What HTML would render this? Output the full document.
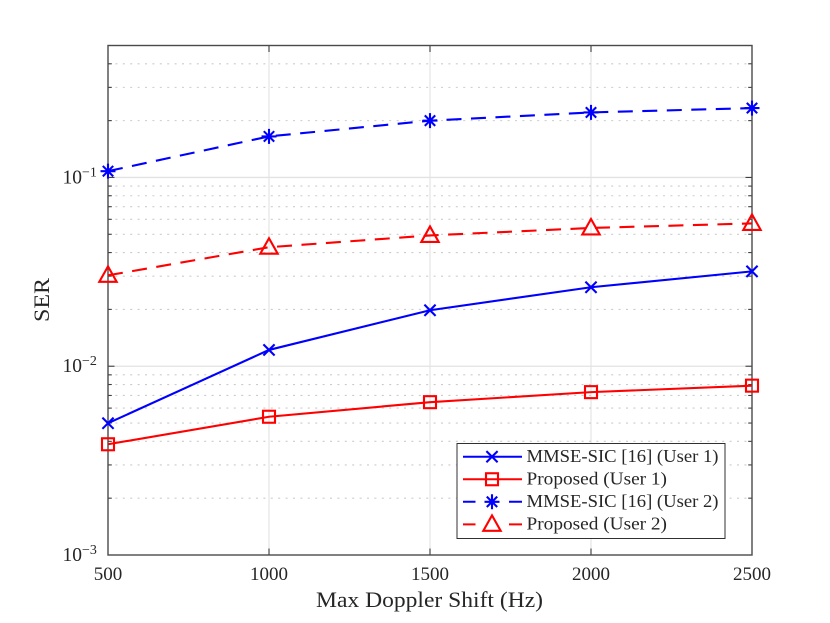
<!DOCTYPE html>
<html>
<head>
<meta charset="utf-8">
<style>
html,body{margin:0;padding:0;background:#fff;}
svg{display:block;}
text{font-family:"Liberation Serif",serif;fill:#262626;}
</style>
</head>
<body>
<svg id="chart" xmlns="http://www.w3.org/2000/svg" width="830" height="623" viewBox="0 0 830 623">
  <rect x="108" y="45.5" width="644" height="509.5" fill="#fff"/>
  <g id="grid"></g>
  <g id="ticks"></g>
  <rect x="108" y="45.5" width="644" height="509.5" fill="none" stroke="#4a4a4a" stroke-width="1.4"/>
  <g id="tick-labels"></g>
  <g id="series"></g>
  <text x="316" y="607" font-size="22.5" textLength="227" lengthAdjust="spacingAndGlyphs">Max Doppler Shift (Hz)</text>
  <text transform="translate(49,322) rotate(-90)" font-size="22.5" textLength="44" lengthAdjust="spacingAndGlyphs">SER</text>
  <g id="legend">
    <rect x="457" y="443.5" width="268" height="95" fill="#fff" stroke="#303030" stroke-width="1"/>
  </g>
</svg>
<script>
const categories = [500, 1000, 1500, 2000, 2500];
const mmseUser1 = [0.00499, 0.0122, 0.0198, 0.0262, 0.0318];
const proposedUser1 = [0.00386, 0.0054, 0.00645, 0.00729, 0.00789];
const mmseUser2 = [0.108, 0.165, 0.2, 0.221, 0.233];
const proposedUser2 = [0.0303, 0.0427, 0.0493, 0.054, 0.0571];
const seriesNames = ['MMSE-SIC [16] (User 1)', 'Proposed (User 1)', 'MMSE-SIC [16] (User 2)', 'Proposed (User 2)'];
const xTickLabels = ['500', '1000', '1500', '2000', '2500'];
const yDecadeExponents = [-3, -2, -1];
const yMinorMultipliers = [2, 3, 4, 5, 6, 7, 8, 9];

const NS = 'http://www.w3.org/2000/svg';
const L = 108, R = 752, T = 45.5, B = 555;
const X_MIN = 500, X_MAX = 2500, LOG_MIN = -3, LOG_MAX = Math.log10(0.5);
function xScale(v) { return L + (v - X_MIN) / (X_MAX - X_MIN) * (R - L); }
function yScale(v) { return B - (Math.log10(v) - LOG_MIN) / (LOG_MAX - LOG_MIN) * (B - T); }
function mk(tag, attrs, parent) {
  const el = document.createElementNS(NS, tag);
  for (const k in attrs) el.setAttribute(k, attrs[k]);
  parent.appendChild(el);
  return el;
}
const gridG = document.getElementById('grid');
const ticksG = document.getElementById('ticks');
const labelsG = document.getElementById('tick-labels');
const seriesG = document.getElementById('series');
const legendG = document.getElementById('legend');

function tickLine(x1, y1, x2, y2, parent) {
  const el = mk('line', {x1: x1, y1: y1, x2: x2, y2: y2, stroke: '#404040', 'stroke-width': 1.1}, parent);
  
  
}

categories.forEach(function (c, i) {
  const x = xScale(c);
  if (i > 0 && i < categories.length - 1) {
    const g = mk('line', {x1: x, y1: T, x2: x, y2: B, stroke: '#e6e6e6', 'stroke-width': 1.3}, gridG);
    
    
    tickLine(x, B, x, B - 6.5, ticksG);
    tickLine(x, T, x, T + 6.5, ticksG);
  }
  const t = mk('text', {x: x, y: 580, 'font-size': 19, 'text-anchor': 'middle'}, labelsG);
  
  
  t.textContent = xTickLabels[i];
});

yDecadeExponents.forEach(function (e) {
  const v = Math.pow(10, e);
  const y = yScale(v);
  if (e > -3) {
    const g = mk('line', {x1: L, y1: y, x2: R, y2: y, stroke: '#e2e2e2', 'stroke-width': 1.3}, gridG);
    
    
    tickLine(L, y, L + 6.5, y, ticksG);
    tickLine(R, y, R - 6.5, y, ticksG);
  }
  const t = mk('text', {x: 62.5, y: y + 6, 'font-size': 19.5}, labelsG);
  
  
  t.textContent = '10';
  const s = mk('tspan', {dy: -7, dx: 0, 'font-size': 14}, t);
  s.textContent = '\u2212' + Math.abs(e);
  yMinorMultipliers.forEach(function (m) {
    const mv = m * v;
    if (mv > 0.5001) return;
    const my = yScale(mv);
    const g = mk('line', {x1: L, y1: my, x2: R, y2: my, stroke: '#cbcbcb', 'stroke-width': 1.1, 'stroke-dasharray': '2 5.4'}, gridG);
    
    
    if (mv < 0.49) {
      tickLine(L, my, L + 3.8, my, ticksG);
      tickLine(R, my, R - 3.8, my, ticksG);
    }
  });
});

function marker(kind, x, y, color, parent) {
  const g = mk('g', {fill: 'none', stroke: color, 'stroke-width': 2.1}, parent);
  
  
  if (kind === 'x') {
    const r = 5.6;
    mk('path', {d: 'M' + (x - r) + ' ' + (y - r) + 'L' + (x + r) + ' ' + (y + r) + 'M' + (x - r) + ' ' + (y + r) + 'L' + (x + r) + ' ' + (y - r)}, g);
  } else if (kind === 'square') {
    mk('rect', {x: x - 6, y: y - 6, width: 12, height: 12}, g);
  } else if (kind === 'star') {
    const r = 7.5, d = 5.2;
    mk('path', {d: 'M' + x + ' ' + (y - r) + 'V' + (y + r) + 'M' + (x - r) + ' ' + y + 'H' + (x + r) + 'M' + (x - d) + ' ' + (y - d) + 'L' + (x + d) + ' ' + (y + d) + 'M' + (x - d) + ' ' + (y + d) + 'L' + (x + d) + ' ' + (y - d)}, g);
  } else {
    mk('path', {d: 'M' + x + ' ' + (y - 9) + 'L' + (x + 8.7) + ' ' + (y + 6.5) + 'H' + (x - 8.7) + 'Z'}, g);
  }
}

const seriesValues = [mmseUser1, proposedUser1, mmseUser2, proposedUser2];
const seriesColors = ['#0000ff', '#ff0000', '#0000ff', '#ff0000'];
const seriesDashes = ['', '', '15 9.5', '15 9.5'];
const seriesMarkers = ['x', 'square', 'star', 'triangle'];
const legendLabelWidths = [192, 140.5, 192, 140.5];

seriesValues.forEach(function (vals, i) {
  const g = mk('g', {}, seriesG);
  
  
  const pts = vals.map(function (v, j) { return xScale(categories[j]) + ',' + yScale(v); }).join(' ');
  const attrs = {points: pts, fill: 'none', stroke: seriesColors[i], 'stroke-width': 2.1};
  if (seriesDashes[i]) attrs['stroke-dasharray'] = seriesDashes[i];
  const line = mk('polyline', attrs, g);
  
  
  vals.forEach(function (v, j) { marker(seriesMarkers[i], xScale(categories[j]), yScale(v), seriesColors[i], g); });
});

seriesNames.forEach(function (n, i) {
  const y = 456.7 + i * 22.55;
  const g = mk('g', {}, legendG);
  
  
  const attrs = {x1: 463, y1: y, x2: 522, y2: y, stroke: seriesColors[i], 'stroke-width': 2};
  if (seriesDashes[i]) attrs['stroke-dasharray'] = '12.5 33.5 13';
  const ln = mk('line', attrs, g);
  
  
  marker(seriesMarkers[i], 492, y, seriesColors[i], g);
  const t = mk('text', {x: 526.5, y: y + 5.2, 'font-size': 18, textLength: legendLabelWidths[i], lengthAdjust: 'spacingAndGlyphs'}, g);
  
  
  t.textContent = n;
});
</script>
</body>
</html>
